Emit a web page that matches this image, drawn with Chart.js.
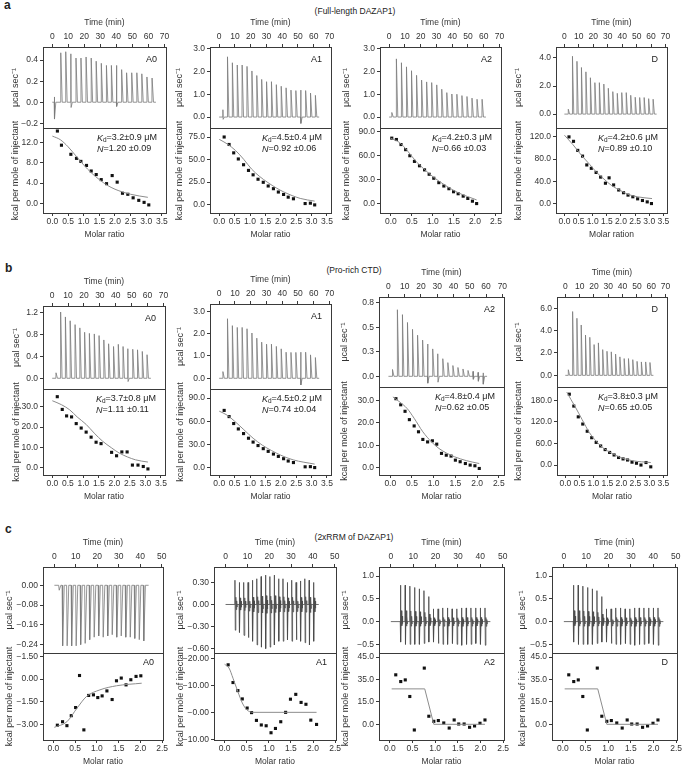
<!DOCTYPE html>
<html>
<head>
<meta charset="utf-8">
<script src="https://cdn.jsdelivr.net/npm/chart.js@4.4.1/dist/chart.umd.min.js"></script>
<style>
  body { margin: 0; background: #fff; width: 685px; height: 767px; position: relative; overflow: hidden;
         font-family: "Liberation Sans", Arial, sans-serif; color: #222; }
  canvas { position: absolute; }
  .lt { position: absolute; font-weight: bold; font-size: 12px; }
  .sub { position: absolute; font-size: 8.5px; transform: translate(-50%, -50%); white-space: nowrap; }
</style>
</head>
<body>
<div class="lt" style="left:4px;top:-2px">a</div>
<div class="sub" style="left:355px;top:11px">(Full-length DAZAP1)</div>
<div class="lt" style="left:5px;top:261px">b</div>
<div class="sub" style="left:354px;top:270px">(Pro-rich CTD)</div>
<div class="lt" style="left:5px;top:522px">c</div>
<div class="sub" style="left:354px;top:537px">(2xRRM of DAZAP1)</div>
<script>
// shared tick values
var time70 = [0, 10, 20, 30, 40, 50, 60, 70];
var time50 = [0, 10, 20, 30, 40, 50];
var ratio35 = [0, 0.5, 1, 1.5, 2, 2.5, 3, 3.5];
var ratio25 = [0, 0.5, 1, 1.5, 2, 2.5];

// ---- row a : full-length DAZAP1 ----
// raw thermograms: injection time (min), peak top, peak bottom (ucal/sec)
var aA0_t  = [1.2, 5.2, 8.3, 11.5, 14.7, 17.8, 21.0, 24.2, 27.3, 30.5, 33.7, 36.8, 40.0, 43.2, 46.3, 49.5, 52.7, 55.8, 59.0, 62.2];
var aA0_hi = [0.05, 0.47, 0.48, 0.46, 0.42, 0.42, 0.43, 0.42, 0.39, 0.37, 0.35, 0.35, 0.35, 0.31, 0.28, 0.28, 0.28, 0.27, 0.24, 0.23];
var aA0_lo = [-0.16, 0, 0, -0.05, 0, 0, 0, 0, 0, 0, 0, 0, -0.04, 0, 0, 0, 0, 0, 0, 0];
var aA1_t  = [2.3, 5.2, 8.3, 11.4, 14.5, 17.6, 20.7, 23.8, 26.9, 30.0, 33.1, 36.2, 39.3, 42.4, 45.5, 48.6, 51.7, 54.8, 57.9, 61.0];
var aA1_hi = [0.32, 2.64, 2.38, 2.28, 2.28, 2.22, 2.02, 1.82, 1.65, 1.55, 1.55, 1.42, 1.35, 1.28, 1.18, 1.16, 1.18, 1.16, 1.05, 0.95];
var aA1_lo = [-0.1, 0, 0, 0, 0, 0, 0, 0, 0, 0, 0, 0, 0, 0, 0, 0, -0.28, 0, 0, 0];
var aA2_t  = [1.6, 4.5, 7.7, 10.9, 14.1, 17.3, 20.5, 23.7, 26.9, 30.1, 33.3, 36.5, 39.7, 42.9, 46.1, 49.3, 52.5, 55.7, 58.9];
var aA2_hi = [0.2, 2.55, 2.38, 2.2, 2.03, 1.83, 1.62, 1.54, 1.51, 1.41, 1.22, 1.07, 1.01, 1.0, 0.94, 0.9, 0.83, 0.78, 0.78];
var aA2_lo = [0, 0, 0, 0, 0, 0, 0, 0, 0, 0, 0, 0, 0, 0, 0, 0, 0, 0, 0];
var aD_t   = [2.6, 5.5, 8.6, 11.7, 14.8, 17.9, 21.0, 24.1, 27.2, 30.3, 33.4, 36.5, 39.6, 42.7, 45.8, 48.9, 52.0, 55.1, 58.2, 61.3];
var aD_hi  = [0.35, 4.12, 3.76, 3.32, 3.01, 2.59, 2.24, 2.24, 2.14, 1.84, 1.6, 1.48, 1.53, 1.53, 1.34, 1.2, 1.18, 1.18, 1.1, 1.06];
var aD_lo  = [0, 0, 0, 0, 0, 0, 0, 0, 0, 0, 0, 0, 0, 0, 0, 0, 0, 0, 0, 0];
// integrated heats (molar ratio, kcal/mol) and fitted curve
var aA0_x  = [0.16, 0.29, 0.59, 0.77, 0.91, 1.09, 1.24, 1.40, 1.56, 1.73, 1.91, 2.07, 2.24, 2.41, 2.58, 2.76, 2.93, 3.08];
var aA0_y  = [14.3, 11.5, 9.7, 8.9, 8.3, 7.5, 6.4, 5.7, 4.7, 3.9, 5.5, 4.2, 2.0, 1.8, 1.1, 0.6, 0.2, -0.3];
var aA0_fx = [0.0, 0.25, 0.5, 0.75, 1.0, 1.25, 1.5, 1.75, 2.0, 2.5, 3.05];
var aA0_fy = [13.3, 12.6, 11.2, 9.4, 7.6, 6.0, 4.7, 3.6, 2.8, 1.8, 1.2];
var aA1_x  = [0.16, 0.32, 0.47, 0.62, 0.79, 0.95, 1.10, 1.26, 1.43, 1.59, 1.76, 1.92, 2.09, 2.24, 2.41, 2.79, 2.96, 3.10];
var aA1_y  = [75, 66.7, 57.4, 50.6, 44.2, 37.9, 33.0, 28.1, 24.7, 20.6, 17.6, 13.9, 11.2, 8.2, 6.4, 1.1, 1.5, -0.4];
var aA1_fx = [0, 0.25, 0.53, 0.8, 1.05, 1.3, 1.58, 1.85, 2.1, 2.63, 3.1];
var aA1_fy = [72.4, 67.5, 60, 50, 39.4, 31.5, 24.4, 18.5, 13.9, 6.8, 3.8];
var aA2_x  = [0.02, 0.13, 0.24, 0.35, 0.45, 0.56, 0.68, 0.80, 0.91, 1.02, 1.14, 1.26, 1.38, 1.49, 1.60, 1.72, 1.83, 1.94, 2.04];
var aA2_y  = [82.3, 80.6, 74.3, 67.9, 60.3, 53.2, 47.7, 42.6, 37.1, 32.1, 26.6, 22.4, 19.0, 15.2, 12.7, 9.7, 6.8, 3.4, 0.4];
var aA2_fx = [0, 0.2, 0.4, 0.6, 0.8, 1.0, 1.3, 1.6, 2.04];
var aA2_fy = [82, 77, 66, 53, 43, 34, 23, 14, 5];
var aD_x   = [0.16, 0.32, 0.47, 0.64, 0.79, 0.95, 1.12, 1.28, 1.45, 1.58, 1.74, 1.92, 2.09, 2.25, 2.42, 2.59, 2.76, 2.93, 3.08];
var aD_y   = [120, 112, 95.7, 85.4, 69.5, 63.4, 56, 47.6, 36.6, 46.3, 33.5, 24.4, 19.5, 15.2, 12.2, 8.5, 5.5, 3, 0];
var aD_fx  = [0, 0.3, 0.6, 0.9, 1.14, 1.4, 1.68, 2.0, 2.23, 2.6, 3.1];
var aD_fy  = [123, 106, 87, 70, 56, 44, 32, 23, 17, 12, 9];

// ---- row b : Pro-rich CTD ----
var bA0_t  = [2.3, 5.2, 8.2, 11.2, 14.3, 17.3, 20.3, 23.3, 26.4, 29.4, 32.4, 35.4, 38.5, 41.5, 44.5, 47.5, 50.6, 53.6, 56.6, 59.6];
var bA0_hi = [0.1, 1.21, 1.12, 1.05, 0.98, 0.92, 0.84, 0.82, 0.81, 0.78, 0.70, 0.63, 0.58, 0.62, 0.58, 0.54, 0.53, 0.52, 0.49, 0.43];
var bA0_lo = [0, 0, 0, 0, 0, 0, 0, 0, 0, 0, 0, 0, 0, 0, 0, -0.06, 0, 0, 0, 0];
var bA1_t  = [2.3, 5.2, 8.3, 11.4, 14.5, 17.6, 20.7, 23.8, 26.9, 30.0, 33.1, 36.2, 39.3, 42.4, 45.5, 48.6, 51.7, 54.8, 57.9, 61.0];
var bA1_hi = [0.3, 2.67, 2.36, 2.28, 2.28, 2.22, 2.03, 1.8, 1.62, 1.53, 1.53, 1.43, 1.32, 1.17, 1.16, 1.16, 1.17, 1.17, 1.05, 0.93];
var bA1_lo = [0, 0, 0, 0, 0, 0, 0, 0, 0, 0, 0, 0, 0, 0, 0, 0, -0.3, 0, 0, 0];
var bA2_t  = [2.4, 5.4, 8.5, 11.6, 14.7, 17.8, 20.9, 24.0, 27.1, 30.2, 33.3, 36.4, 39.5, 42.6, 45.7, 48.8, 51.9, 55.0, 58.1];
var bA2_hi = [0.07, 0.68, 0.63, 0.55, 0.48, 0.42, 0.37, 0.33, 0.28, 0.23, 0.18, 0.14, 0.11, 0.09, 0.075, 0.06, 0.05, 0.04, 0.035];
var bA2_lo = [0, 0, 0, 0, 0, 0, 0, -0.07, 0, -0.06, 0, 0, 0, 0, 0, 0, -0.03, -0.05, -0.08];
var bD_t   = [2.0, 5.0, 8.0, 11.0, 14.0, 17.0, 20.0, 23.0, 26.0, 29.0, 32.0, 35.0, 38.0, 41.0, 44.0, 47.0, 50.0, 53.0, 56.0, 59.0];
var bD_hi  = [0.5, 5.7, 5.1, 4.5, 3.6, 3.4, 2.75, 2.9, 2.3, 2.15, 2.1, 1.9, 1.65, 1.5, 1.5, 1.4, 1.25, 1.2, 1.2, 1.15];
var bD_lo  = [0, 0, 0, 0, 0, 0, 0, 0, 0, 0, 0, 0, 0, 0, 0, 0, 0, 0, 0, 0];
var bA0_x  = [0.16, 0.32, 0.46, 0.62, 0.77, 0.93, 1.09, 1.25, 1.41, 1.57, 1.91, 2.07, 2.24, 2.41, 2.58, 2.76, 2.93, 3.08];
var bA0_y  = [35, 28.7, 25.5, 25, 21.7, 19.5, 17.5, 15, 12.5, 11.8, 7.5, 5.8, 7.7, 7.7, 1.2, 1.2, 0.5, -0.7];
var bA0_fx = [0, 0.3, 0.56, 0.8, 1.09, 1.35, 1.62, 1.9, 2.15, 2.68, 3.08];
var bA0_fy = [33, 31, 28.5, 25, 21.3, 17, 13, 9.8, 7.2, 3.8, 2.7];
var bA1_x  = [0.16, 0.32, 0.47, 0.62, 0.79, 0.95, 1.10, 1.26, 1.43, 1.59, 1.76, 1.92, 2.09, 2.24, 2.41, 2.79, 2.96, 3.10];
var bA1_y  = [74, 66, 57, 50, 44, 38, 33, 28.5, 24.5, 21, 17.5, 14.5, 11.5, 8.5, 6.5, 1, 1.2, 0];
var bA1_fx = [0, 0.25, 0.5, 0.8, 1.1, 1.4, 1.7, 2.0, 2.4, 3.1];
var bA1_fy = [73, 68, 60, 49, 38, 29, 22, 16, 10, 4.5];
var bA2_x  = [0.13, 0.24, 0.34, 0.44, 0.55, 0.65, 0.75, 0.86, 0.97, 1.07, 1.18, 1.29, 1.40, 1.50, 1.61, 1.73, 1.84, 1.95, 2.05];
var bA2_y  = [30.7, 28, 25.1, 21.4, 18.6, 16, 12.6, 11.5, 12, 10.5, 6.4, 5.6, 5.2, 3.4, 2.7, 1.9, 1.2, 0.9, -0.3];
var bA2_fx = [0.06, 0.2, 0.39, 0.55, 0.75, 0.95, 1.12, 1.3, 1.48, 1.75, 2.05];
var bA2_fy = [31.5, 29.5, 26.3, 22, 16, 11.5, 8.6, 6.5, 4.9, 3.2, 1.9];
var bD_x   = [0.14, 0.30, 0.46, 0.62, 0.78, 0.94, 1.10, 1.26, 1.42, 1.58, 1.74, 1.90, 2.06, 2.22, 2.38, 2.54, 2.70, 2.88, 3.05];
var bD_y   = [197, 164, 134, 114, 94, 76, 63, 53, 43, 35, 28, 21, 17, 14, 8, 5, 0, 7, -5];
var bD_fx  = [0.05, 0.2, 0.35, 0.6, 0.86, 1.1, 1.36, 1.65, 1.97, 2.4, 3.05];
var bD_fy  = [203, 182, 162, 126, 90, 66, 47, 33, 21, 12, 7];

// ---- row c : 2xRRM of DAZAP1 ----
var cA0_t  = [2.0, 3.6, 5.7, 7.8, 9.9, 12.0, 14.1, 16.2, 18.3, 20.4, 22.5, 24.6, 26.7, 28.8, 30.9, 33.0, 35.1, 37.2, 39.3, 41.4];
var cA0_hi = [0, 0, 0, 0, 0, 0, 0, 0, 0, 0, 0, 0, 0, 0, 0, 0, 0, 0, 0, 0];
var cA0_lo = [-0.02, -0.245, -0.245, -0.245, -0.245, -0.24, -0.235, -0.22, -0.21, -0.205, -0.21, -0.205, -0.2, -0.21, -0.205, -0.21, -0.21, -0.215, -0.22, -0.225];
var cA1_t  = [4.2, 6.2, 8.2, 10.2, 12.2, 14.2, 16.2, 18.2, 20.2, 22.2, 24.2, 26.2, 28.2, 30.2, 32.2, 34.2, 36.2, 38.2, 40.2];
var cA1_hi = [0.33, 0.30, 0.30, 0.30, 0.33, 0.35, 0.38, 0.40, 0.38, 0.40, 0.35, 0.35, 0.30, 0.33, 0.30, 0.32, 0.35, 0.33, 0.30];
var cA1_lo = [-0.35, -0.38, -0.42, -0.45, -0.5, -0.55, -0.58, -0.6, -0.58, -0.55, -0.5, -0.5, -0.48, -0.5, -0.48, -0.5, -0.52, -0.55, -0.5];
var cA2_t  = [4.2, 6.3, 8.4, 10.5, 12.6, 14.7, 16.8, 18.9, 21.0, 23.1, 25.2, 27.3, 29.4, 31.5, 33.6, 35.7, 37.8, 39.9, 42.0];
var cA2_hi = [0.8, 0.8, 0.78, 0.75, 0.72, 0.68, 0.55, 0.28, 0.28, 0.3, 0.3, 0.28, 0.28, 0.3, 0.3, 0.3, 0.3, 0.3, 0.3];
var cA2_lo = [-0.45, -0.5, -0.5, -0.5, -0.5, -0.48, -0.45, -0.45, -0.48, -0.5, -0.5, -0.48, -0.5, -0.52, -0.5, -0.5, -0.48, -0.5, -0.52];
var cA0_x  = [0.09, 0.21, 0.31, 0.41, 0.51, 0.60, 0.70, 0.81, 0.92, 1.02, 1.12, 1.23, 1.35, 1.45, 1.56, 1.67, 1.78, 1.90, 2.01];
var cA0_y  = [-3.05, -2.82, -3.08, -2.42, -1.88, 0.24, -3.36, -1.08, -1.04, -1.22, -1.11, -0.78, -1.35, -0.11, 0.07, -0.38, -0.04, 0.18, 0.22];
var cA0_fx = [0.02, 0.31, 0.54, 0.76, 1.07, 1.45, 2.03];
var cA0_fy = [-3.19, -2.82, -1.93, -1.15, -0.71, -0.44, -0.27];
var cA1_x  = [0.08, 0.19, 0.30, 0.40, 0.51, 0.61, 0.72, 0.83, 0.94, 1.05, 1.15, 1.27, 1.38, 1.49, 1.61, 1.73, 1.84, 1.95, 2.08];
var cA1_y  = [17.7, 11.1, 8.1, 5.0, 1.6, -0.1, -3.0, -4.7, -5.0, -7.6, -6.0, -3.5, 0.0, 4.9, 6.7, 3.7, 3.0, -2.9, -4.5];
var cA1_fx = [0.0, 0.1, 0.19, 0.3, 0.4, 0.5, 0.64, 2.08];
var cA1_fy = [17.9, 16.5, 12.7, 7.7, 3.5, 1.0, 0, 0];
var cA2_x  = [0.13, 0.24, 0.34, 0.44, 0.54, 0.76, 0.86, 0.97, 1.07, 1.19, 1.31, 1.42, 1.52, 1.64, 1.76, 1.87, 1.99, 2.10];
var cA2_y  = [33.1, 28.6, 29.7, 18.6, -3.8, 37.6, 5.4, 2.0, 2.5, 0.9, -2.5, 2.9, 0.2, 0.2, -2.0, -1.1, 0.7, 2.9];
var cA2_fx = [0.04, 0.77, 0.97, 2.1];
var cA2_fy = [23.7, 23.7, 0, 0];

// y tick values and their printed labels (as printed in the figure)
var yTop_aA0 = [-0.2, 0, 0.2, 0.4],  yTopL_aA0 = ['\u22120.2', '0.0', '0.2', '0.4'];
var yTop_a3  = [0, 1, 2, 3],          yTopL_a3  = ['0.0', '1.0', '2.0', '3.0'];
var yTop_aD  = [0, 2, 4],             yTopL_aD  = ['0.0', '2.0', '4.0'];
var yTop_bA0 = [0, 0.4, 0.8, 1.2],    yTopL_bA0 = ['0.0', '0.4', '0.8', '1.2'];
var yTop_bA2 = [0, 0.25, 0.5, 0.75],  yTopL_bA2 = ['0.0', '0.3', '0.5', '0.8'];
var yTop_bD  = [0, 2, 4, 6],          yTopL_bD  = ['0.0', '2.0', '4.0', '6.0'];
var yTop_cA0 = [0, -0.08, -0.16, -0.24], yTopL_cA0 = ['0.00', '\u22120.08', '\u22120.16', '\u22120.24'];
var yTop_cA1 = [0.3, 0, -0.3, -0.6],  yTopL_cA1 = ['0.30', '0.00', '\u22120.30', '\u22120.60'];
var yTop_cA2 = [1, 0.5, 0, -0.5],     yTopL_cA2 = ['1.0', '0.5', '0.0', '\u22120.5'];
var yBot_aA0 = [0, 4, 8, 12],         yBotL_aA0 = ['0.0', '4.0', '8.0', '12.0'];
var yBot_aA1 = [0, 25, 50, 75],       yBotL_aA1 = ['0.0', '25.0', '50.0', '75.0'];
var yBot_90  = [0, 30, 60, 90],       yBotL_90  = ['0.0', '30.0', '60.0', '90.0'];
var yBot_aD  = [0, 40, 80, 120],      yBotL_aD  = ['0.0', '40.0', '80.0', '120.0'];
var yBot_30  = [0, 10, 20, 30],       yBotL_30  = ['0.0', '10.0', '20.0', '30.0'];
var yBot_bD  = [0, 60, 120, 180],     yBotL_bD  = ['0.0', '60.0', '120.0', '180.0'];
var yBot_cA0 = [1.5, 0, -1.5, -3],    yBotL_cA0 = ['\u22121.50', '0.00', '\u22121.50', '\u22123.00'];
var yBot_cA1 = [20, 10, 0, -10],      yBotL_cA1 = ['\u221220.00', '\u221210.00', '\u22120.00', '\u221210.00'];
var yBot_cA2 = [45, 30, 15, 0],       yBotL_cA2 = ['45.0', '35.0', '15.0', '0.0'];

Chart.defaults.font.family = '"Liberation Sans", Arial, sans-serif';
Chart.defaults.color = '#333';

var FONT = '"Liberation Sans", Arial, sans-serif';
var PAD = 7, XH = 30, XB = 28;

// frame + in-plot annotations
var boxPlugin = {
    id: 'itcBox',
    afterDraw: function (chart, args, o) {
        var ctx = chart.ctx, a = chart.chartArea;
        ctx.save();
        ctx.strokeStyle = '#3a3a3a';
        ctx.lineWidth = 1;
        var l = Math.round(a.left), t = Math.round(a.top);
        ctx.strokeRect(l + 0.5, t + 0.5, Math.round(a.right) - l, Math.round(a.bottom) - t);
        ctx.fillStyle = '#222';
        ctx.textBaseline = 'middle';
        if (o.tag) {
            ctx.font = '9px ' + FONT;
            ctx.textAlign = 'right';
            ctx.fillText(o.tag, a.right - 9, a.top + o.tagY);
        }
        if (o.kd) {
            var f = '9px ' + FONT, fi = 'italic 9px ' + FONT, fs = '6.5px ' + FONT;
            var r1 = '=' + o.kd, r2 = '=' + o.n;
            ctx.textAlign = 'left';
            ctx.font = fi;
            var wK = ctx.measureText('K').width, wN = ctx.measureText('N').width;
            ctx.font = fs;
            var wd = ctx.measureText('d').width;
            ctx.font = f;
            var w1 = ctx.measureText(r1).width;
            var x0 = a.right - 9 - (wK + wd + w1);
            var y1 = a.top + 10, y2 = a.top + 21;
            ctx.font = fi;
            ctx.fillText('K', x0, y1);
            ctx.fillText('N', x0, y2);
            ctx.font = fs;
            ctx.fillText('d', x0 + wK, y1 + 2.5);
            ctx.font = f;
            ctx.fillText(r1, x0 + wK + wd, y1);
            ctx.fillText(r2, x0 + wN, y2);
        }
        ctx.restore();
    }
};

function axis(pos, range, vals, labels, title, size) {
    return {
        type: 'linear', position: pos, min: range[0], max: range[1],
        border: { display: false },
        grid: { drawOnChartArea: false, drawTicks: true, tickLength: 3, color: '#3a3a3a' },
        ticks: { autoSkip: false, maxRotation: 0, padding: pos === 'bottom' ? 1 : 2, color: '#333',
                 font: { size: 8.5 }, callback: function (v, i) { return labels[i]; } },
        afterBuildTicks: function (s) { s.ticks = vals.map(function (v) { return { value: v }; }); },
        title: { display: true, text: title, color: '#333', font: { size: pos === 'left' ? 9 : 8.5 },
                 padding: { top: 1, bottom: 1 } },
        afterFit: function (s) {
            if (pos === 'left') s.width = size; else s.height = size;
            s.paddingTop = 0; s.paddingBottom = 0; s.paddingLeft = 0; s.paddingRight = 0;
        }
    };
}

function spikes(t, hi, lo, ring) {
    var pts = [{ x: 0, y: 0 }];
    for (var i = 0; i < t.length; i++) {
        pts.push({ x: t[i], y: 0 });
        if (hi[i]) pts.push({ x: t[i] + 0.1, y: hi[i] });
        if (lo[i]) pts.push({ x: t[i] + 0.25, y: lo[i] });
        if (ring) {
            pts.push({ x: t[i] + 0.5, y: hi[i] * 0.3 }, { x: t[i] + 0.7, y: lo[i] * 0.2 },
                     { x: t[i] + 0.9, y: hi[i] * 0.15 }, { x: t[i] + 1.1, y: lo[i] * 0.1 });
        }
        pts.push({ x: t[i] + 1.0, y: 0 });
    }
    pts.push({ x: t[t.length - 1] + 2.5, y: 0 });
    return pts;
}

function pairs(xs, ys) {
    return xs.map(function (x, i) { return { x: x, y: ys[i] }; });
}

function addCanvas(left, top, w, h) {
    var c = document.createElement('canvas');
    c.width = w; c.height = h;
    c.style.left = left + 'px';
    c.style.top = top + 'px';
    document.body.appendChild(c);
    return c;
}

function panel(p) {
    var w = p.yw + (p.R - p.L) + PAD;
    var isC = p.row === 'c';
    var tRange = isC ? [-5.3, 50.6] : [-5.8, 71];
    var tVals = isC ? time50 : time70;
    var rVals = p.rmax === 3.5 ? ratio35 : ratio25;
    var rRange = isC ? [-0.24, 2.52] : (p.rmax === 3.5 ? [-0.3, 3.63] : [-0.26, 2.62]);
    var common = { responsive: false, devicePixelRatio: 1, animation: false, events: [] };

    // upper panel: raw heat rate
    new Chart(addCanvas(p.L - p.yw, p.T - XH, w, XH + (p.M - p.T) + PAD), {
        type: 'line',
        data: { datasets: [{
            data: spikes(p.t, p.hi, p.lo, p.ring),
            borderColor: p.ring ? '#4a4a4a' : '#7a7a7a', borderWidth: 0.8, pointRadius: 0, tension: 0, fill: false
        }] },
        options: Object.assign({}, common, {
            layout: { padding: { left: 0, right: PAD, top: 0, bottom: PAD } },
            plugins: { legend: { display: false }, tooltip: { enabled: false },
                       itcBox: { tag: isC ? null : p.tag, tagY: 13 } },
            scales: {
                x: axis('top', tRange, tVals, tVals.map(String), 'Time (min)', XH),
                y: axis('left', p.ytr, p.yt, p.ytl, 'μcal sec⁻¹', p.yw)
            }
        }),
        plugins: [boxPlugin]
    });

    // lower panel: integrated heats + fit
    new Chart(addCanvas(p.L - p.yw, p.M - PAD, w, PAD + (p.B - p.M) + XB), {
        type: 'line',
        data: { datasets: [{
            data: pairs(p.fx, p.fy),
            borderColor: '#8c8c8c', borderWidth: 1, pointRadius: 0, fill: false,
            cubicInterpolationMode: p.step ? 'default' : 'monotone', tension: 0
        }, {
            data: pairs(p.x, p.y),
            showLine: false, pointStyle: 'rect', pointRadius: 2.2,
            pointBackgroundColor: '#111', pointBorderWidth: 0
        }] },
        options: Object.assign({}, common, {
            layout: { padding: { left: 0, right: PAD, top: PAD, bottom: 0 } },
            plugins: { legend: { display: false }, tooltip: { enabled: false },
                       itcBox: { tag: isC ? p.tag : null, tagY: 10, kd: p.kd, n: p.n } },
            scales: {
                x: axis('bottom', rRange, rVals, rVals.map(function (v) { return v.toFixed(1); }), p.xt || 'Molar ratio', XB),
                y: axis('left', p.ybr, p.yb, p.ybl, 'kcal per mole of injectant', p.yw)
            }
        }),
        plugins: [boxPlugin]
    });
}

var panels = [
    { row: 'a', tag: 'A0', L: 43, R: 166, T: 47, M: 128, B: 213, yw: 34, rmax: 3.5,
      t: aA0_t, hi: aA0_hi, lo: aA0_lo, yt: yTop_aA0, ytl: yTopL_aA0, ytr: [-0.245, 0.525],
      x: aA0_x, y: aA0_y, fx: aA0_fx, fy: aA0_fy, yb: yBot_aA0, ybl: yBotL_aA0, ybr: [-1.9, 14.9],
      kd: '3.2±0.9 μM', n: '1.20 ±0.09' },
    { row: 'a', tag: 'A1', L: 210, R: 331, T: 47, M: 128, B: 213, yw: 37, rmax: 3.5,
      t: aA1_t, hi: aA1_hi, lo: aA1_lo, yt: yTop_a3, ytl: yTopL_a3, ytr: [-0.48, 3.07],
      x: aA1_x, y: aA1_y, fx: aA1_fx, fy: aA1_fy, yb: yBot_aA1, ybl: yBotL_aA1, ybr: [-9.4, 85],
      kd: '4.5±0.4 μM', n: '0.92 ±0.06' },
    { row: 'a', tag: 'A2', L: 380, R: 501, T: 47, M: 128, B: 213, yw: 40, rmax: 2.5,
      t: aA2_t, hi: aA2_hi, lo: aA2_lo, yt: yTop_a3, ytl: yTopL_a3, ytr: [-0.48, 3.07],
      x: aA2_x, y: aA2_y, fx: aA2_fx, fy: aA2_fy, yb: yBot_90, ybl: yBotL_90, ybr: [-11.4, 95],
      kd: '4.2±0.3 μM', n: '0.66 ±0.03' },
    { row: 'a', tag: 'D', L: 556, R: 667, T: 47, M: 128, B: 213, yw: 44, rmax: 3.5,
      t: aD_t, hi: aD_hi, lo: aD_lo, yt: yTop_aD, ytl: yTopL_aD, ytr: [-0.99, 4.78],
      x: aD_x, y: aD_y, fx: aD_fx, fy: aD_fy, yb: yBot_aD, ybl: yBotL_aD, ybr: [-17, 136],
      kd: '4.2±0.6 μM', n: '0.89 ±0.10', xt: 'Molar ration' },

    { row: 'b', tag: 'A0', L: 43, R: 165, T: 306, M: 389, B: 475, yw: 33, rmax: 3.5,
      t: bA0_t, hi: bA0_hi, lo: bA0_lo, yt: yTop_bA0, ytl: yTopL_bA0, ytr: [-0.196, 1.32],
      x: bA0_x, y: bA0_y, fx: bA0_fx, fy: bA0_fy, yb: yBot_30, ybl: yBotL_30, ybr: [-3.7, 38.8],
      kd: '3.7±0.8 μM', n: '1.11 ±0.11' },
    { row: 'b', tag: 'A1', L: 210, R: 331, T: 304, M: 389, B: 475, yw: 36, rmax: 3.5,
      t: bA1_t, hi: bA1_hi, lo: bA1_lo, yt: yTop_a3, ytl: yTopL_a3, ytr: [-0.48, 3.33],
      x: bA1_x, y: bA1_y, fx: bA1_fx, fy: bA1_fy, yb: yBot_90, ybl: yBotL_90, ybr: [-9.6, 101.7],
      kd: '4.5±0.2 μM', n: '0.74 ±0.04' },
    { row: 'b', tag: 'A2', L: 379, R: 504, T: 297, M: 387, B: 475, yw: 41, rmax: 2.5,
      t: bA2_t, hi: bA2_hi, lo: bA2_lo, yt: yTop_bA2, ytl: yTopL_bA2, ytr: [-0.109, 0.81],
      x: bA2_x, y: bA2_y, fx: bA2_fx, fy: bA2_fy, yb: yBot_30, ybl: yBotL_30, ybr: [-3.2, 35.9],
      kd: '4.8±0.4 μM', n: '0.62 ±0.05' },
    { row: 'b', tag: 'D', L: 557, R: 667, T: 297, M: 387, B: 475, yw: 45, rmax: 3.5,
      t: bD_t, hi: bD_hi, lo: bD_lo, yt: yTop_bD, ytl: yTopL_bD, ytr: [-1.04, 7.0],
      x: bD_x, y: bD_y, fx: bD_fx, fy: bD_fy, yb: yBot_bD, ybl: yBotL_bD, ybr: [-27.7, 217],
      kd: '3.8±0.3 μM', n: '0.65 ±0.05' },

    { row: 'c', tag: 'A0', L: 43, R: 163, T: 567, M: 653, B: 740, yw: 40, rmax: 2.5,
      t: cA0_t, hi: cA0_hi, lo: cA0_lo, yt: yTop_cA0, ytl: yTopL_cA0, ytr: [-0.274, 0.074],
      x: cA0_x, y: cA0_y, fx: cA0_fx, fy: cA0_fy, yb: yBot_cA0, ybl: yBotL_cA0, ybr: [-4.03, 1.73] },
    { row: 'c', tag: 'A1', L: 214, R: 336, T: 567, M: 653, B: 740, yw: 40, rmax: 2.5, ring: true,
      t: cA1_t, hi: cA1_hi, lo: cA1_lo, yt: yTop_cA1, ytl: yTopL_cA1, ytr: [-0.66, 0.51],
      x: cA1_x, y: cA1_y, fx: cA1_fx, fy: cA1_fy, yb: yBot_cA1, ybl: yBotL_cA1, ybr: [-10.3, 22.1] },
    { row: 'c', tag: 'A2', L: 379, R: 504, T: 567, M: 653, B: 740, yw: 40, rmax: 2.5, ring: true, step: true,
      t: cA2_t, hi: cA2_hi, lo: cA2_lo, yt: yTop_cA2, ytl: yTopL_cA2, ytr: [-0.69, 1.2],
      x: cA2_x, y: cA2_y, fx: cA2_fx, fy: cA2_fy, yb: yBot_cA2, ybl: yBotL_cA2, ybr: [-10.5, 47.7] },
    // the D panel of row c shows the same trace and isotherm as A2
    { row: 'c', tag: 'D', L: 552, R: 677, T: 567, M: 653, B: 740, yw: 36, rmax: 2.5, ring: true, step: true,
      t: cA2_t, hi: cA2_hi, lo: cA2_lo, yt: yTop_cA2, ytl: yTopL_cA2, ytr: [-0.69, 1.2],
      x: cA2_x, y: cA2_y, fx: cA2_fx, fy: cA2_fy, yb: yBot_cA2, ybl: yBotL_cA2, ybr: [-10.5, 47.7] }
];

panels.forEach(panel);
</script>
</body>
</html>
